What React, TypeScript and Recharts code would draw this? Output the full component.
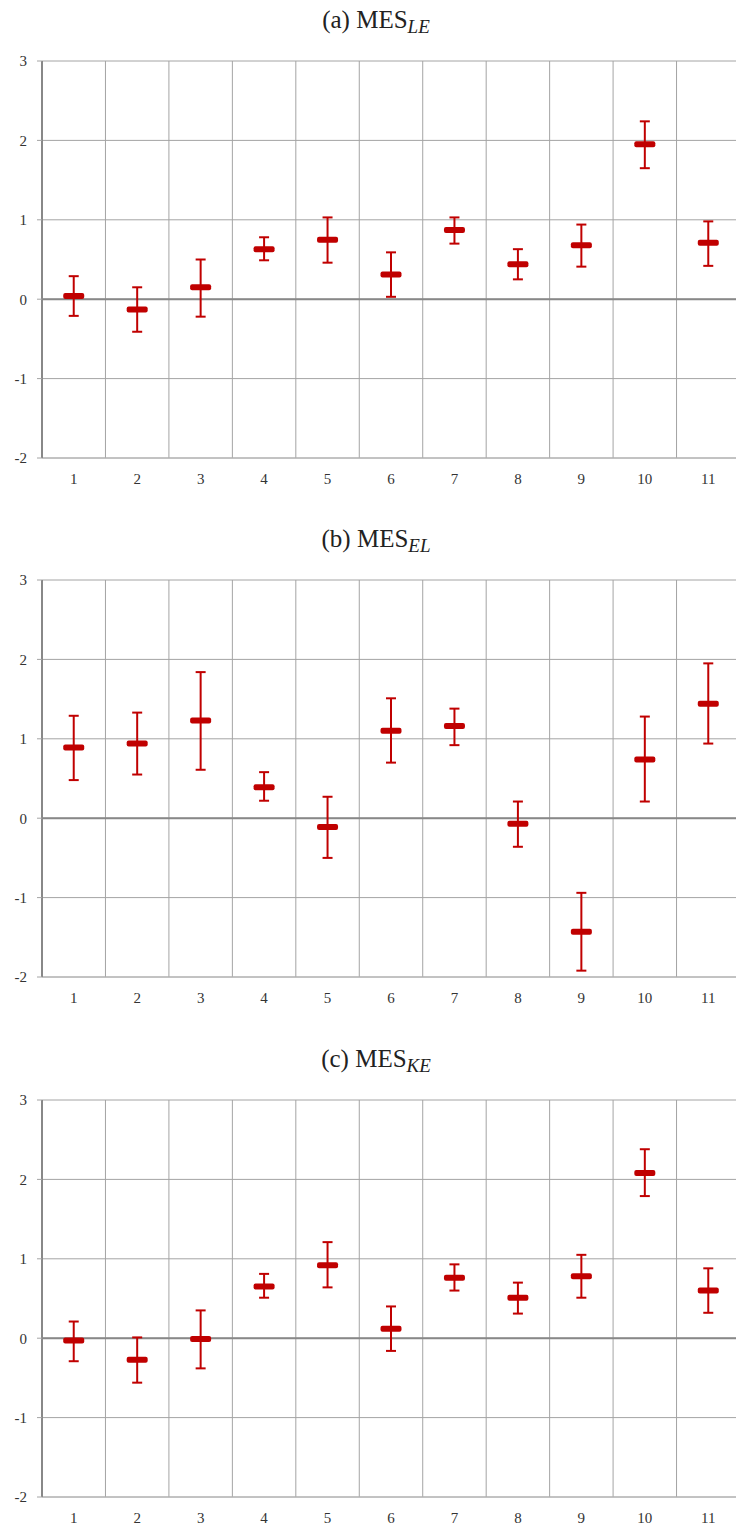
import {
  ComposedChart,
  Line,
  ErrorBar,
  XAxis,
  YAxis,
  CartesianGrid,
  ReferenceLine,
} from 'recharts';

const categories = [1, 2, 3, 4, 5, 6, 7, 8, 9, 10, 11];
const yTicks = [-2, -1, 0, 1, 2, 3];
// gridlines sit between the categories
const gridTicks = [...categories.map((c) => c - 0.5), 11.5];

// (a) MES_LE
const meanLE = [0.04, -0.13, 0.15, 0.63, 0.75, 0.31, 0.87, 0.44, 0.68, 1.95, 0.71];
const lowLE = [-0.21, -0.41, -0.22, 0.49, 0.46, 0.03, 0.7, 0.25, 0.41, 1.65, 0.42];
const highLE = [0.29, 0.15, 0.5, 0.78, 1.03, 0.59, 1.03, 0.63, 0.94, 2.24, 0.98];

// (b) MES_EL
const meanEL = [0.89, 0.94, 1.23, 0.39, -0.11, 1.1, 1.16, -0.07, -1.43, 0.74, 1.44];
const lowEL = [0.48, 0.55, 0.61, 0.22, -0.5, 0.7, 0.92, -0.36, -1.92, 0.21, 0.94];
const highEL = [1.29, 1.33, 1.84, 0.58, 0.27, 1.51, 1.38, 0.21, -0.94, 1.28, 1.95];

// (c) MES_KE
const meanKE = [-0.03, -0.27, -0.01, 0.65, 0.92, 0.12, 0.76, 0.51, 0.78, 2.08, 0.6];
const lowKE = [-0.29, -0.56, -0.38, 0.51, 0.64, -0.16, 0.6, 0.31, 0.51, 1.79, 0.32];
const highKE = [0.21, 0.01, 0.35, 0.81, 1.21, 0.4, 0.93, 0.7, 1.05, 2.38, 0.88];

const RED = '#C00000';
const FONT = "'Liberation Serif', 'Times New Roman', 'DejaVu Serif', serif";

const buildRows = (mean: number[], low: number[], high: number[]) =>
  categories.map((c, i) => ({
    x: c,
    mean: mean[i],
    err: [mean[i] - low[i], high[i] - mean[i]],
  }));

const MeanMark = (props: any) => {
  const { cx, cy } = props;
  if (cx == null || cy == null) return null;
  return <rect x={cx - 10.5} y={cy - 3} width={21} height={6} rx={2} fill={RED} />;
};

interface PanelProps {
  label: string;
  sub: string;
  mean: number[];
  low: number[];
  high: number[];
  top: number;
}

function Panel({ label, sub, mean, low, high, top }: PanelProps) {
  const data = buildRows(mean, low, high);
  return (
    <div style={{ position: 'absolute', left: 0, top, width: 740, height: 489 }}>
      <div
        style={{
          position: 'absolute',
          left: 376,
          top: 7,
          transform: 'translateX(-50%)',
          whiteSpace: 'nowrap',
          fontFamily: FONT,
          fontSize: 25,
          lineHeight: '25px',
          color: '#222',
        }}
      >
        {label} MES
        <span style={{ fontSize: 19, fontStyle: 'italic', verticalAlign: '-5px', lineHeight: 0 }}>
          {sub}
        </span>
      </div>
      <ComposedChart
        width={740}
        height={489}
        data={data}
        margin={{ top: 61, right: 0, bottom: 0, left: 0 }}
        style={{ fontFamily: FONT }}
      >
        <CartesianGrid xAxisId="grid" stroke="#a4a4a4" strokeWidth={1} />
        <XAxis
          xAxisId="grid"
          type="number"
          dataKey="x"
          domain={[0.5, 11.5]}
          ticks={gridTicks}
          hide
        />
        <XAxis
          type="number"
          dataKey="x"
          domain={[0.5, 11.5]}
          ticks={categories}
          interval={0}
          height={31}
          axisLine={{ stroke: '#b4b4b4', strokeWidth: 1 }}
          tickLine={false}
          tickSize={0}
          tickMargin={15}
          tick={{ fill: '#333', fontSize: 15, fontFamily: FONT }}
        />
        <YAxis
          type="number"
          domain={[-2, 3]}
          ticks={yTicks}
          interval={0}
          width={42}
          axisLine={{ stroke: '#888', strokeWidth: 2 }}
          tickLine={{ stroke: '#a4a4a4' }}
          tickSize={5}
          tickMargin={10}
          tick={{ fill: '#333', fontSize: 15, fontFamily: FONT }}
        />
        <ReferenceLine y={0} stroke="#888" strokeWidth={2} />
        <Line
          dataKey="mean"
          stroke="none"
          dot={<MeanMark />}
          activeDot={false}
          isAnimationActive={false}
        >
          <ErrorBar dataKey="err" direction="y" width={5} stroke={RED} strokeWidth={2} />
        </Line>
      </ComposedChart>
    </div>
  );
}

export default function App() {
  return (
    <div
      style={{
        position: 'absolute',
        left: 0,
        top: 0,
        width: 736,
        height: 1528,
        overflow: 'hidden',
        background: '#fff',
      }}
    >
      <Panel label="(a)" sub="LE" mean={meanLE} low={lowLE} high={highLE} top={0} />
      <Panel label="(b)" sub="EL" mean={meanEL} low={lowEL} high={highEL} top={519} />
      <Panel label="(c)" sub="KE" mean={meanKE} low={lowKE} high={highKE} top={1039} />
    </div>
  );
}
